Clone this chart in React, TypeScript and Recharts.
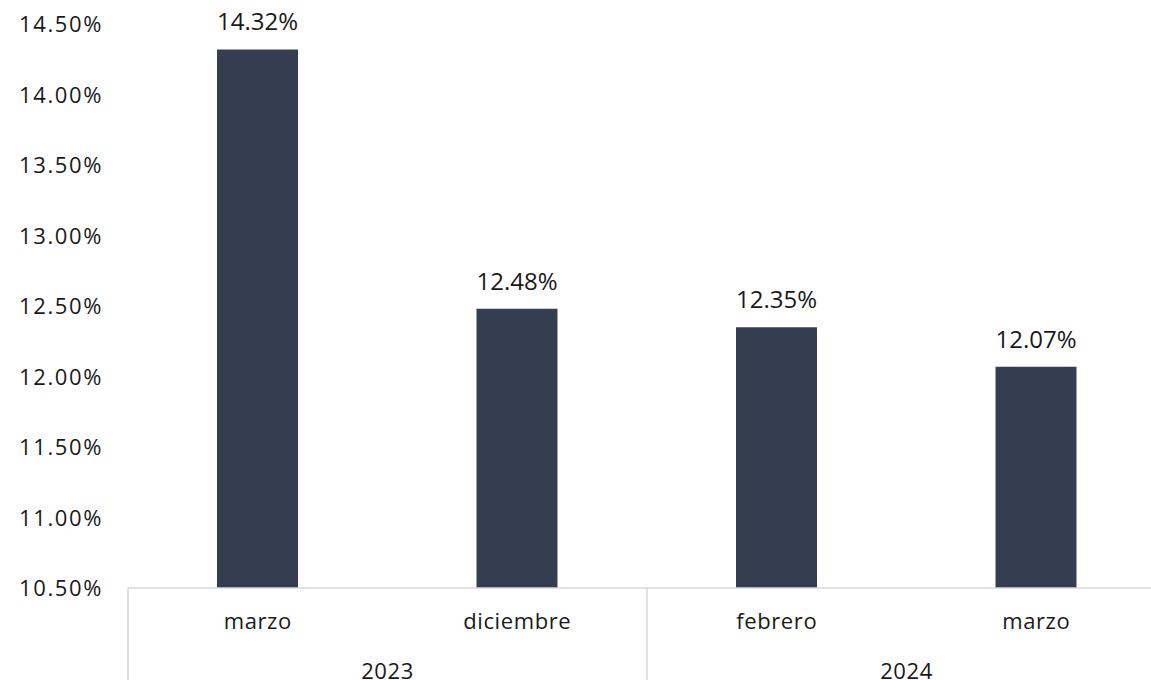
import React from "react";
import { BarChart, Bar, XAxis, YAxis, LabelList } from "recharts";

const months = ["marzo", "diciembre", "febrero", "marzo"];
const years = ["2023", "2023", "2024", "2024"];
const rates = [14.32, 12.48, 12.35, 12.07];
const yTicks = [10.5, 11, 11.5, 12, 12.5, 13, 13.5, 14, 14.5];

const data = months.map((m, i) => ({ key: `${years[i]}-${i}`, month: m, year: years[i], rate: rates[i] }));

const CHART_W = 1180;
const CHART_H = 700;
const Y_AXIS_W = 128;
const MARGIN = { top: 24, right: 14, left: 0, bottom: 0 };
const BAND = (CHART_W - Y_AXIS_W - MARGIN.left - MARGIN.right) / months.length;

const FONT = "'Open Sans', Lato, sans-serif";
const TEXT = "#1a1a1a";
const GRID = "#d9d9d9";

const pct = (v: number) => `${v.toFixed(2)}%`;

// month label, plus year label and separator at the start of each year group
const CategoryTick = (props: any) => {
  const { x, y, index } = props;
  const half = BAND / 2;
  const first = index === 0 || years[index] !== years[index - 1];
  const last = index === years.length - 1;
  const groupSize = years.filter((yr) => yr === years[index]).length;
  return (
    <g>
      <text x={x} y={y + 41} textAnchor="middle" fontFamily={FONT} fontSize={22} letterSpacing={0.6} fill={TEXT}>
        {months[index]}
      </text>
      {first && (
        <>
          <line x1={x - half} x2={x - half} y1={y} y2={y + 120} stroke={GRID} strokeWidth={1.5} />
          <text x={x - half + (groupSize * BAND) / 2} y={y + 91} textAnchor="middle" fontFamily={FONT} fontSize={22} letterSpacing={0.6} fill={TEXT}>
            {years[index]}
          </text>
        </>
      )}
      {last && <line x1={x + half} x2={x + half} y1={y} y2={y + 120} stroke={GRID} strokeWidth={1.5} />}
    </g>
  );
};

const ValueTick = (props: any) => {
  const { x, y, payload } = props;
  return (
    <text x={x - 25} y={y + 8} textAnchor="end" fontFamily={FONT} fontSize={22} letterSpacing={1.6} fill={TEXT}>
      {pct(payload.value)}
    </text>
  );
};

export default function App() {
  return (
    <div style={{ position: "absolute", left: 0, top: 0, width: 1151, height: 680, overflow: "hidden", background: "#fff" }}>
      <BarChart width={CHART_W} height={CHART_H} data={data} margin={MARGIN}>
        <XAxis
          dataKey="key"
          height={CHART_H - 588}
          tickLine={false}
          tickSize={0}
          tickMargin={0}
          axisLine={{ stroke: GRID, strokeWidth: 1.5 }}
          interval={0}
          tick={<CategoryTick />}
        />
        <YAxis
          width={Y_AXIS_W}
          domain={[10.5, 14.5]}
          ticks={yTicks}
          allowDataOverflow
          axisLine={false}
          tickLine={false}
          tickSize={0}
          tickMargin={0}
          tick={<ValueTick />}
        />
        <Bar dataKey="rate" fill="#343e50" barSize={81} isAnimationActive={false}>
          <LabelList
            dataKey="rate"
            position="top"
            offset={19}
            formatter={(v: any) => pct(Number(v))}
            style={{ fontFamily: FONT, fontSize: 24, fill: TEXT }}
          />
        </Bar>
      </BarChart>
    </div>
  );
}
